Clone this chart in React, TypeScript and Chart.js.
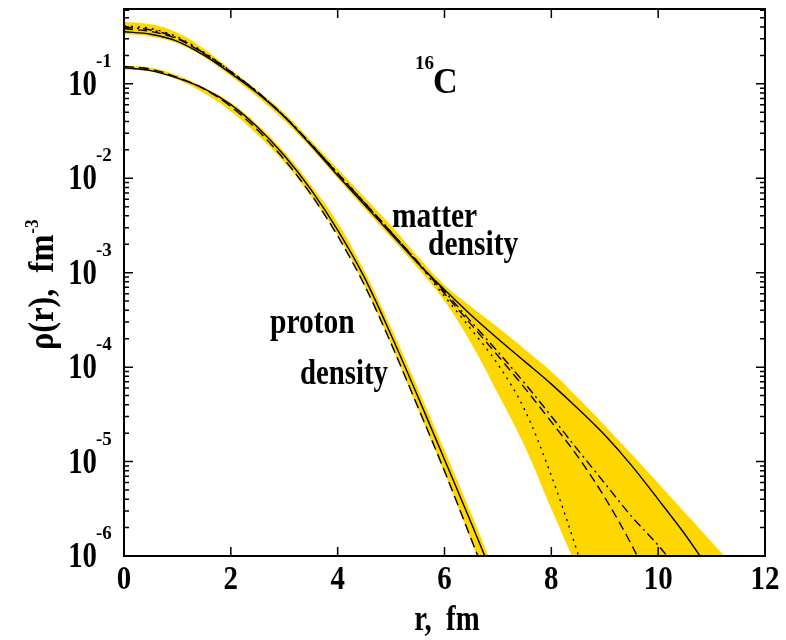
import React, { useEffect, useRef } from 'react';
import { Chart, registerables } from 'chart.js';

Chart.register(...registerables);

// ---------- data ----------
const X_TICKS = [0, 2, 4, 6, 8, 10, 12];
const Y_TICK_VALUES = [1e-1, 1e-2, 1e-3, 1e-4, 1e-5, 1e-6];
const Y_TICK_EXP = ['-1', '-2', '-3', '-4', '-5', '-6'];

const R_MATTER = [0, 0.5, 1, 1.5, 2, 2.5, 3, 3.5, 4, 4.5, 5, 5.5, 6, 6.5, 7, 7.5, 8, 8.5, 9, 9.5, 10, 10.5, 11, 11.5];
const MATTER_SOLID = [0.356, 0.335, 0.282, 0.2, 0.129, 0.0794, 0.0447, 0.0224, 0.0107, 5.25e-3, 2.57e-3, 1.26e-3, 6.61e-4, 3.55e-4, 2.0e-4, 1.15e-4, 6.61e-5, 3.63e-5, 1.91e-5, 9.12e-6, 3.98e-6, 1.7e-6, 6.6e-7];
const MATTER_DASHED = [0.383, 0.359, 0.299, 0.209, 0.133, 0.0813, 0.0452, 0.0229, 0.0112, 5.5e-3, 2.69e-3, 1.29e-3, 6.03e-4, 2.82e-4, 1.32e-4, 6.03e-5, 2.63e-5, 1.12e-5, 4.17e-6, 1.32e-6, 3.5e-7];
const MATTER_DASHDOT = [0.398, 0.372, 0.305, 0.211, 0.135, 0.0817, 0.0454, 0.023, 0.01127, 5.52e-3, 2.69e-3, 1.3e-3, 6.31e-4, 3.02e-4, 1.45e-4, 6.76e-5, 3.02e-5, 1.32e-5, 5.89e-6, 2.63e-6, 1.3e-6, 5.8e-7];
const MATTER_DOTTED = [0.412, 0.385, 0.313, 0.215, 0.136, 0.0818, 0.0454, 0.0231, 0.01135, 5.56e-3, 2.69e-3, 1.26e-3, 5.62e-4, 2.51e-4, 1.07e-4, 3.55e-5, 7.08e-6, 1.05e-6, 1.26e-7];
const MATTER_BAND_HI = [0.452, 0.427, 0.347, 0.234, 0.141, 0.0851, 0.049, 0.0251, 0.0126, 6.31e-3, 3.16e-3, 1.48e-3, 7.41e-4, 4.37e-4, 2.63e-4, 1.55e-4, 9.0e-5, 4.7e-5, 2.4e-5, 1.2e-5, 5.89e-6, 2.88e-6, 1.41e-6, 6.9e-7];
const MATTER_BAND_LO = [0.339, 0.316, 0.269, 0.191, 0.12, 0.0724, 0.0407, 0.0209, 0.01, 4.79e-3, 2.34e-3, 1.12e-3, 5.01e-4, 1.78e-4, 5.25e-5, 1.45e-5, 3.16e-6, 7.1e-7, 1.6e-7, 1e-7, 1e-7, 1e-7, 1e-7, 1e-7];

const R_PROTON = [0, 0.5, 1, 1.5, 2, 2.5, 3, 3.5, 4, 4.5, 5, 5.5, 6, 6.5, 7];
const PROTON_SOLID = [0.148, 0.138, 0.115, 0.0891, 0.0603, 0.0347, 0.0174, 7.59e-3, 2.82e-3, 8.91e-4, 2.19e-4, 4.9e-5, 1.05e-5, 2.24e-6, 4.6e-7];
const PROTON_DASHED = [0.153, 0.143, 0.117, 0.0881, 0.0575, 0.0324, 0.0158, 6.76e-3, 2.45e-3, 7.41e-4, 1.78e-4, 3.8e-5, 7.94e-6, 1.51e-6, 2.8e-7];
const PROTON_BAND_HI = [0.155, 0.148, 0.123, 0.0912, 0.0631, 0.0372, 0.0191, 8.51e-3, 3.39e-3, 1.05e-3, 2.63e-4, 6.03e-5, 1.32e-5, 2.82e-6, 5.6e-7];
const PROTON_BAND_LO = [0.141, 0.135, 0.111, 0.0794, 0.0513, 0.0288, 0.0148, 6.46e-3, 2.51e-3, 7.41e-4, 1.74e-4, 3.63e-5, 7.59e-6, 1.45e-6, 2.5e-7];

const BAND_COLOR = '#FFD700';
const FONT = '"Liberation Serif", "Times New Roman", serif';

const pts = (rs: number[], vs: number[]) => vs.map((v, i) => ({ x: rs[i], y: v }));

const line = (label: string, data: any[], dash: number[]) => ({
  label,
  data,
  borderColor: '#000',
  borderWidth: 1.4,
  borderDash: dash,
  pointRadius: 0,
  fill: false,
  cubicInterpolationMode: 'monotone',
});

const band = (label: string, data: any[], fill: any) => ({
  label,
  data,
  borderColor: 'rgba(0,0,0,0)',
  borderWidth: 0,
  backgroundColor: BAND_COLOR,
  pointRadius: 0,
  fill,
  tension: 0.4,
});

function txt(ctx: CanvasRenderingContext2D, s: string, x: number, y: number, size: number, sx: number, align: CanvasTextAlign = 'left') {
  ctx.save();
  ctx.font = `bold ${size}px ${FONT}`;
  ctx.textBaseline = 'alphabetic';
  ctx.textAlign = align;
  ctx.fillStyle = '#000';
  ctx.translate(x, y);
  ctx.scale(sx, 1);
  ctx.fillText(s, 0, 0);
  ctx.restore();
}

const decorPlugin = {
  id: 'decor',
  afterDraw(chart: any) {
    const ctx: CanvasRenderingContext2D = chart.ctx;
    const { left, right, top, bottom } = chart.chartArea;
    const xs = chart.scales.x;
    const ys = chart.scales.y;
    ctx.save();
    ctx.strokeStyle = '#000';
    ctx.lineWidth = 1.5;
    ctx.beginPath();
    X_TICKS.forEach((t) => {
      const px = xs.getPixelForValue(t);
      ctx.moveTo(px, bottom);
      ctx.lineTo(px, bottom - 9);
      ctx.moveTo(px, top);
      ctx.lineTo(px, top + 9);
    });
    Y_TICK_VALUES.forEach((d) => {
      for (let m = 1; m <= 9; m++) {
        const v = d * m;
        if (v < ys.min || v > ys.max) continue;
        const py = ys.getPixelForValue(v);
        const len = m === 1 ? 9 : 5;
        ctx.moveTo(left, py);
        ctx.lineTo(left + len, py);
        ctx.moveTo(right, py);
        ctx.lineTo(right - len, py);
      }
    });
    ctx.stroke();
    ctx.lineWidth = 2;
    ctx.strokeRect(left, top, right - left, bottom - top);
    ctx.restore();

    Y_TICK_VALUES.forEach((v, i) => {
      const py = ys.getPixelForValue(v);
      txt(ctx, '10', 97, py + 11, 36, 0.8, 'right');
      txt(ctx, Y_TICK_EXP[i], 96, py - 17, 19, 1, 'left');
    });
    X_TICKS.forEach((t) => {
      const px = xs.getPixelForValue(t);
      txt(ctx, String(t), px, 589, 34, 0.85, 'center');
    });
    txt(ctx, 'r,  fm', 447, 630, 36, 0.8, 'center');

    ctx.save();
    ctx.translate(53, 350);
    ctx.rotate(-Math.PI / 2);
    ctx.scale(0.9, 1);
    ctx.fillStyle = '#000';
    ctx.font = `bold 36px ${FONT}`;
    ctx.textBaseline = 'alphabetic';
    ctx.textAlign = 'left';
    const main = 'ρ(r),  fm';
    ctx.fillText(main, 0, 0);
    const w = ctx.measureText(main).width;
    ctx.font = `bold 19px ${FONT}`;
    ctx.fillText('-3', w + 1, -15);
    ctx.restore();

    txt(ctx, '16', 415, 69, 19, 1, 'left');
    txt(ctx, 'C', 433, 93, 36, 0.95, 'left');
    txt(ctx, 'matter', 392, 227, 36, 0.82, 'left');
    txt(ctx, 'density', 428, 255, 36, 0.82, 'left');
    txt(ctx, 'proton', 270, 333, 36, 0.82, 'left');
    txt(ctx, 'density', 300, 384, 36, 0.8, 'left');
  },
};

export default function App() {
  const ref = useRef<HTMLCanvasElement>(null);
  useEffect(() => {
    if (!ref.current) return;
    const chart = new Chart(ref.current, {
      type: 'line',
      data: {
        datasets: [
          line('matter solid', pts(R_MATTER, MATTER_SOLID), []),
          line('matter dashed', pts(R_MATTER, MATTER_DASHED), [9, 5]),
          line('matter dash-dot', pts(R_MATTER, MATTER_DASHDOT), [9, 4, 2, 4]),
          line('matter dotted', pts(R_MATTER, MATTER_DOTTED), [2, 5]),
          line('proton solid', pts(R_PROTON, PROTON_SOLID), []),
          line('proton dashed', pts(R_PROTON, PROTON_DASHED), [10, 5]),
          band('matter band hi', pts(R_MATTER, MATTER_BAND_HI), '+1'),
          band('matter band lo', pts(R_MATTER, MATTER_BAND_LO), false),
          band('proton band hi', pts(R_PROTON, PROTON_BAND_HI), '+1'),
          band('proton band lo', pts(R_PROTON, PROTON_BAND_LO), false),
        ] as any,
      },
      options: {
        animation: false,
        responsive: false,
        maintainAspectRatio: false,
        events: [],
        layout: { padding: { left: 124, right: 21, top: 9, bottom: 84 } },
        plugins: { legend: { display: false }, tooltip: { enabled: false } },
        scales: {
          x: { type: 'linear', min: 0, max: 12, display: false },
          y: { type: 'logarithmic', min: 1e-6, max: 0.62, display: false },
        },
      } as any,
      plugins: [decorPlugin],
    });
    return () => chart.destroy();
  }, []);
  return (
    <div style={{ position: 'absolute', left: 0, top: 0, width: 786, height: 640, background: '#fff' }}>
      <canvas ref={ref} width={786} height={640} style={{ display: 'block' }} />
    </div>
  );
}
